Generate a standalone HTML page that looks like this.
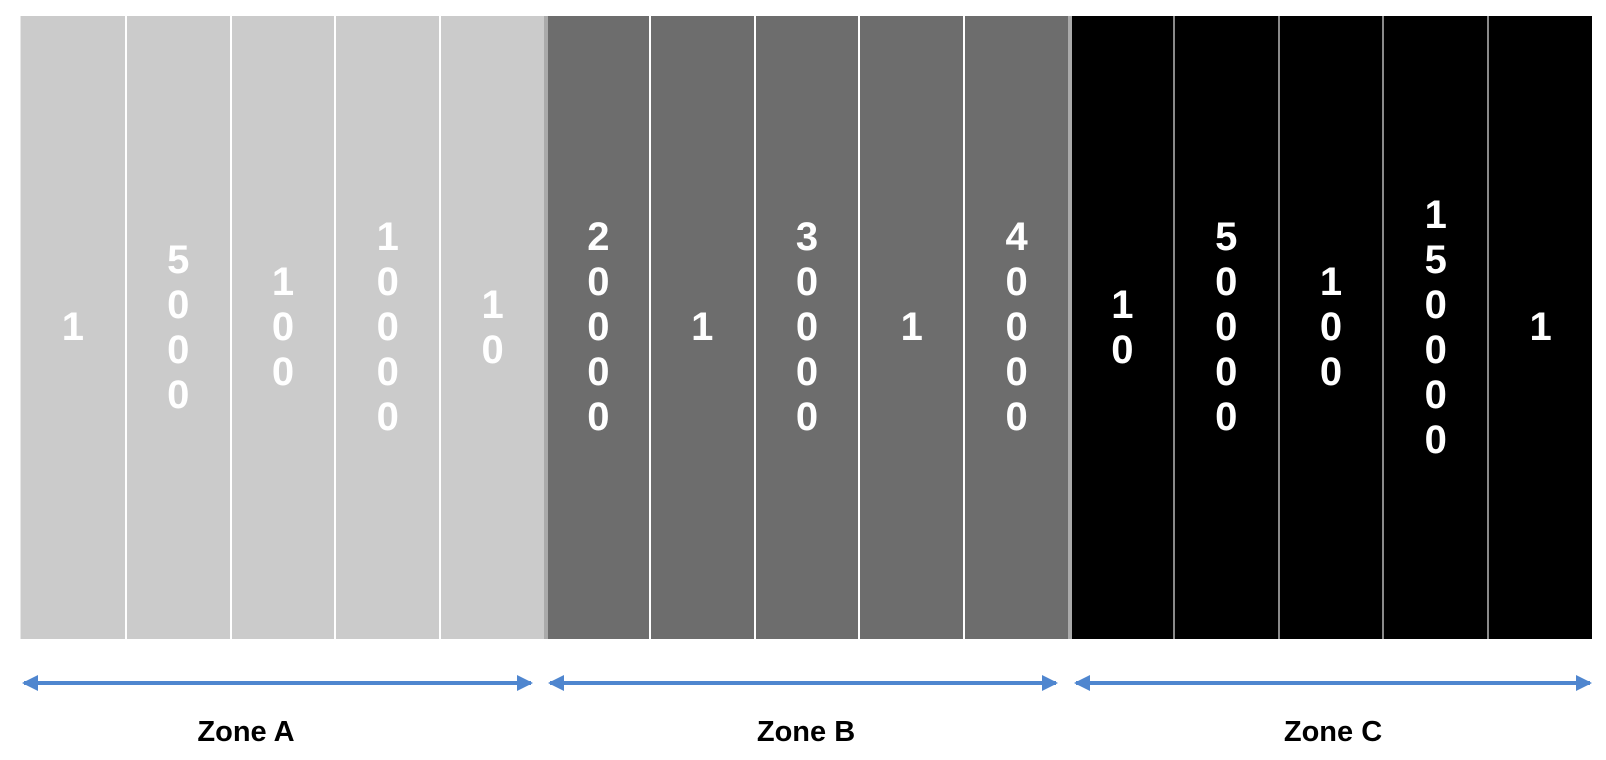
<!DOCTYPE html>
<html><head><meta charset="utf-8"><style>
body{margin:0;width:1606px;height:760px;background:#fff;position:relative;overflow:hidden;font-family:"Liberation Sans",sans-serif}
.c{position:absolute;top:16px;height:623px;display:flex;align-items:center;justify-content:center;color:#fff;font-weight:bold;font-size:40px;line-height:45px;text-align:center;box-sizing:border-box}
.z{position:absolute;top:714px;font-weight:bold;font-size:29px;color:#000;width:300px;text-align:center;line-height:36px}
</style></head><body>
<div id="g"></div>
<svg width="1606" height="760" style="position:absolute;left:0;top:0">
<defs><marker id="a" markerWidth="4" markerHeight="4" refX="3.5" refY="2" orient="auto-start-reverse" markerUnits="strokeWidth"><path d="M0,0L4,2L0,4z" fill="#4f86cf"/></marker></defs>
<line x1="24" y1="683" x2="531" y2="683" stroke="#4f86cf" stroke-width="4" marker-start="url(#a)" marker-end="url(#a)"/>
<line x1="550" y1="683" x2="1056" y2="683" stroke="#4f86cf" stroke-width="4" marker-start="url(#a)" marker-end="url(#a)"/>
<line x1="1076" y1="683" x2="1590" y2="683" stroke="#4f86cf" stroke-width="4" marker-start="url(#a)" marker-end="url(#a)"/>
</svg>
<div class="z" style="left:96px">Zone A</div>
<div class="z" style="left:656px">Zone B</div>
<div class="z" style="left:1183px">Zone C</div>
<script>
var v=["1","5000","100","10000","10","20000","1","30000","1","40000","10","50000","100","150000","1"];
var h="",w=1572/15;
for(var i=0;i<15;i++){
 var l=20+i*w,bg=i<5?"#cbcbcb":i<10?"#6d6d6d":"#000";
 var bc=i<10?"#fff":"#8a8a8a";
 var bl=(i==0)?"border-left:1px solid #e6e6e6;":(i==5||i==10)?"border-left:4px solid #aaa;":"border-left:2px solid "+bc+";";
 h+='<div class="c" style="left:'+l+'px;width:'+w+'px;background:'+bg+';'+bl+'">'+v[i].split("").join("<br>")+'</div>';
}
document.getElementById("g").innerHTML=h;
</script>
</body></html>
